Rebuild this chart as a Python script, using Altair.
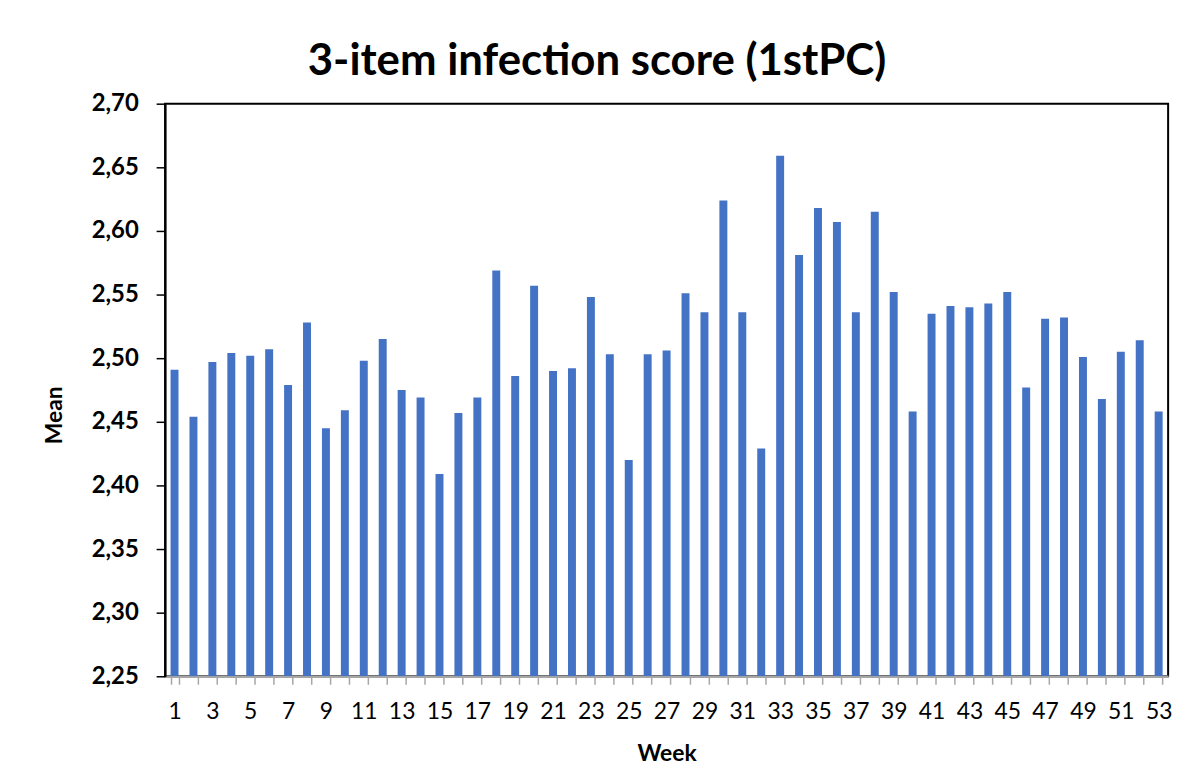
import altair as alt
import pandas as pd

weeks = list(range(1, 54))
means = [2.491, 2.454, 2.497, 2.504, 2.502, 2.507, 2.479, 2.528, 2.445, 2.459,
         2.498, 2.515, 2.475, 2.469, 2.409, 2.457, 2.469, 2.569, 2.486, 2.557,
         2.490, 2.492, 2.548, 2.503, 2.420, 2.503, 2.506, 2.551, 2.536, 2.624,
         2.536, 2.429, 2.659, 2.581, 2.618, 2.607, 2.536, 2.615, 2.552, 2.458,
         2.535, 2.541, 2.540, 2.543, 2.552, 2.477, 2.531, 2.532, 2.501, 2.468,
         2.505, 2.514, 2.458]
y_ticks = [2.25, 2.30, 2.35, 2.40, 2.45, 2.50, 2.55, 2.60, 2.65, 2.70]

df = pd.DataFrame({"Week": weeks, "Mean": means})

FONT = "Lato"

chart = alt.Chart(df).mark_bar(color="#4472C4", clip=True).encode(
    x=alt.X("Week:O",
            scale=alt.Scale(paddingInner=0.58, paddingOuter=0.29),
            axis=alt.Axis(title="Week", labelAngle=0,
                          labelExpr="datum.value % 2 == 1 ? datum.label : ''",
                          labelOverlap=False,
                          labelFont=FONT, labelFontSize=23, labelColor="#000000",
                          labelPadding=16,
                          tickBand="extent", tickSize=8, tickColor="#a6a6a6", tickWidth=1.5,
                          domainColor="#a6a6a6", domainWidth=2.5,
                          titleFont=FONT, titleFontSize=23, titleFontWeight="bold",
                          titleColor="#000000", titlePadding=20)),
    y=alt.Y("Mean:Q",
            scale=alt.Scale(domain=[2.25, 2.70], zero=False, nice=False),
            axis=alt.Axis(title="Mean", values=y_ticks, grid=False,
                          labelExpr="replace(format(datum.value, '.2f'), '.', ',')",
                          labelFont=FONT, labelFontSize=24, labelFontWeight="bold",
                          labelColor="#000000", labelPadding=18,
                          tickSize=9, tickColor="#000000", tickWidth=1.5,
                          domainColor="#000000", domainWidth=2,
                          titleFont=FONT, titleFontSize=23, titleFontWeight="bold",
                          titleColor="#000000", titleAngle=-90,
                          titleX=-111, titleY=313, titleAlign="center",
                          titleBaseline="middle")),
    y2=alt.datum(2.25),
).properties(
    width=1009, height=576,
    autosize=alt.AutoSizeParams(type="none"),
    padding={"left": 158, "top": 94, "right": 20, "bottom": 90},
    title=alt.TitleParams("3-item infection score (1stPC)", font=FONT, fontSize=44,
                          fontWeight="bold", color="#000000", anchor="middle",
                          frame="group", dx=-70, offset=8),
).configure(
    background="#ffffff",
    view=alt.ViewConfig(stroke="#000000", strokeWidth=2),
)

chart.save("out.html", embed_options={"renderer": "svg", "actions": False})
